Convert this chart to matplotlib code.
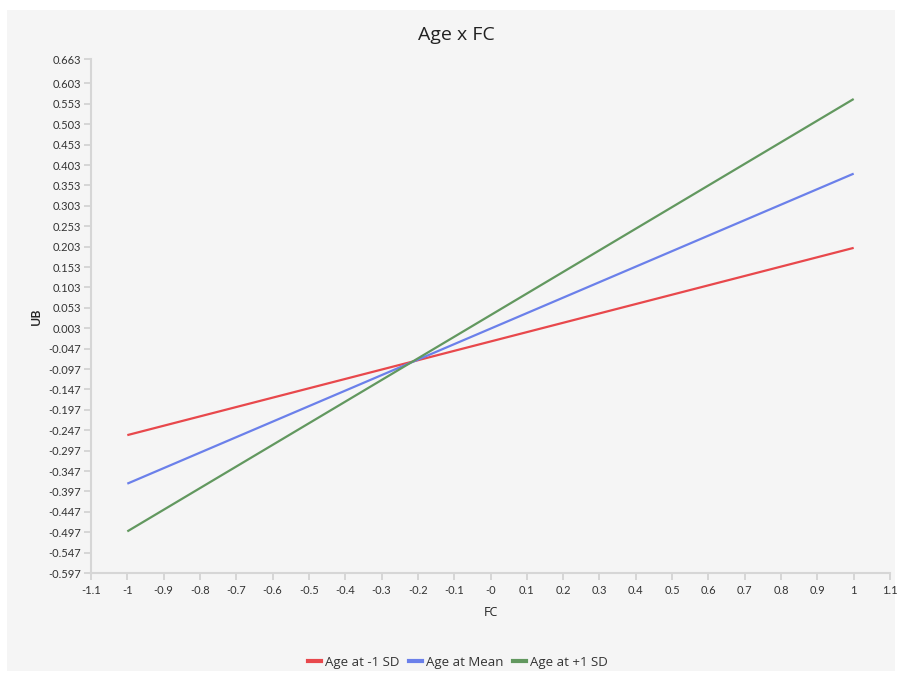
import numpy as np
import matplotlib
matplotlib.use("Agg")
import matplotlib.pyplot as plt
from matplotlib.patches import Rectangle
from matplotlib.lines import Line2D

plt.rcParams['font.family'] = ['Lato', 'DejaVu Sans']

# data
fc = [-1, 1]
series_names = ['Age at -1 SD', 'Age at Mean', 'Age at +1 SD']
ub_low = [-0.259, 0.200]
ub_mean = [-0.378, 0.382]
ub_high = [-0.495, 0.565]
colors = ['#e8484c', '#6b80ea', '#62985f']

x_ticks = [round(-1.1 + 0.1 * i, 1) for i in range(23)]
x_labels = ['-1.1', '-1', '-0.9', '-0.8', '-0.7', '-0.6', '-0.5', '-0.4', '-0.3', '-0.2', '-0.1', '-0',
            '0.1', '0.2', '0.3', '0.4', '0.5', '0.6', '0.7', '0.8', '0.9', '1', '1.1']
y_ticks = [round(-0.597 + 0.05 * i, 3) for i in range(25)] + [0.663]

fig = plt.figure(figsize=(9.01, 6.77), dpi=100)
fig.patch.set_facecolor('white')
fig.patches.append(Rectangle((7 / 901, 6 / 677), 888 / 901, 661 / 677, transform=fig.transFigure,
                             facecolor='#f5f5f5', edgecolor='none', zorder=-5))

ax = fig.add_axes([91 / 901, 104 / 677, 799 / 901, 514 / 677])
ax.set_facecolor('none')
for y, c in zip([ub_low, ub_mean, ub_high], colors):
    ax.plot(fc, y, color=c, lw=1.6, solid_capstyle='butt')

ax.set_xlim(-1.1, 1.1)
ax.set_ylim(-0.597, 0.663)
ax.set_xticks(x_ticks)
ax.set_xticklabels(x_labels)
ax.set_yticks(y_ticks)
ax.set_yticklabels(['%.3f' % v for v in y_ticks])

for s in ['top', 'right']:
    ax.spines[s].set_visible(False)
for s in ['left', 'bottom']:
    ax.spines[s].set_color('#d6d6d6')
    ax.spines[s].set_linewidth(1.5)
ax.tick_params(axis='both', colors='#d0d0d0', length=5, width=1.2, labelcolor='#333333', labelsize=8)
ax.tick_params(axis='y', pad=2)
ax.tick_params(axis='x', pad=4)

ax.set_xlabel('FC', fontsize=9, color='#222222', labelpad=7, family=['Open Sans', 'DejaVu Sans'])
ax.set_ylabel('UB', fontsize=9, color='#222222', labelpad=4, fontweight='semibold',
              family=['Open Sans', 'DejaVu Sans'])
fig.text(0.507, 0.948, 'Age x FC', ha='center', va='center', fontsize=14, color='#222222',
         family=['Open Sans', 'DejaVu Sans'])

handles = [Line2D([0], [0], color=c, lw=3) for c in colors]
fig.legend(handles, series_names, loc='center', bbox_to_anchor=(0.508, 0.022), ncol=3, frameon=False,
           handlelength=1.0, handletextpad=0.3, columnspacing=0.7, labelcolor='#333333',
           prop={'family': ['Open Sans', 'DejaVu Sans'], 'size': 9.5})

fig.savefig('out.png', dpi=100)
